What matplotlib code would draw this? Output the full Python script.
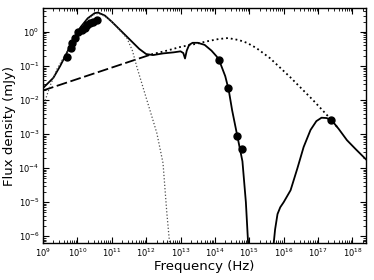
import numpy as np
import matplotlib
matplotlib.use("Agg")
import matplotlib.pyplot as plt
from matplotlib.ticker import LogLocator, NullFormatter

# total model, radio to IR part (log10 nu, log10 F)
total_lo_lognu = [9.0, 9.3, 9.5, 9.7, 9.9, 10.1, 10.3, 10.5, 10.6, 10.8, 11.0, 11.3,
                  11.6, 11.8, 12.0, 12.2, 12.5, 12.8, 13.0, 13.08, 13.13, 13.18, 13.25,
                  13.35, 13.5, 13.7, 13.9, 14.05, 14.13, 14.3, 14.4, 14.5, 14.66, 14.8,
                  14.9, 14.97]
total_lo_logf = [-1.65, -1.35, -1.0, -0.6, -0.2, 0.15, 0.4, 0.55, 0.57, 0.48, 0.3, 0.0,
                 -0.3, -0.5, -0.65, -0.68, -0.63, -0.6, -0.57, -0.62, -0.78, -0.55, -0.38,
                 -0.32, -0.32, -0.38, -0.55, -0.72, -0.85, -1.3, -1.7, -2.3, -3.1, -3.8,
                 -5.0, -6.3]

# total model, UV to X-ray part
total_hi_lognu = [15.7, 15.75, 15.82, 15.9, 16.0, 16.2, 16.4, 16.58, 16.78, 16.95, 17.1,
                  17.25, 17.4, 17.6, 17.84, 18.1, 18.45]
total_hi_logf = [-6.3, -5.8, -5.35, -5.15, -5.0, -4.65, -4.0, -3.38, -2.88, -2.62, -2.52,
                 -2.53, -2.6, -2.85, -3.18, -3.45, -3.8]

# synchrotron power law (dashed) and its curved continuation (dotted)
sync_lognu = [9.0, 12.15]
sync_logf = [-1.72, -0.66]
sync_hi_lognu = [12.15, 12.6, 13.0, 13.4, 13.8, 14.1, 14.38, 14.7, 14.93, 15.2, 15.6,
                 16.18, 16.85, 17.34, 17.6]
sync_hi_logf = [-0.66, -0.55, -0.44, -0.36, -0.27, -0.21, -0.18, -0.24, -0.32, -0.47,
                -0.77, -1.32, -2.0, -2.53, -2.85]

# cold component (thin dotted)
cold_lognu = [9.0, 9.2, 9.4, 9.64, 9.9, 10.1, 10.3, 10.5, 10.6, 10.8, 11.0, 11.2, 11.44,
              11.6, 11.73, 11.9, 12.02, 12.2, 12.31, 12.49, 12.6, 12.69]
cold_logf = [-2.2, -1.6, -1.1, -0.68, -0.25, 0.1, 0.37, 0.52, 0.54, 0.46, 0.3, 0.08, -0.18,
             -0.55, -1.03, -1.6, -2.0, -2.6, -2.97, -3.85, -5.3, -6.3]

# observed points
obs_lognu = [9.70, 9.81, 9.84, 9.93, 10.01, 10.13, 10.22, 10.28, 10.37, 10.45, 10.57,
             14.12, 14.38, 14.64, 14.78, 17.37]
obs_logf = [-0.74, -0.47, -0.32, -0.18, 0.0, 0.06, 0.12, 0.21, 0.26, 0.29, 0.35,
            -0.82, -1.65, -3.06, -3.44, -2.59]


def p(a):
    return 10.0 ** np.asarray(a)


fig = plt.figure(figsize=(3.74, 2.8), dpi=100)
ax = fig.add_axes([0.115, 0.132, 0.864, 0.839])

ax.plot(p(total_lo_lognu), p(total_lo_logf), "k-", lw=1.3)
ax.plot(p(total_hi_lognu), p(total_hi_logf), "k-", lw=1.3)
ax.plot(p(sync_lognu), p(sync_logf), "k--", lw=1.3, dashes=(6, 2))
ax.plot(p(sync_hi_lognu), p(sync_hi_logf), "k:", lw=1.3)
ax.plot(p(cold_lognu), p(cold_logf), color="0.3", ls=":", lw=0.9)
ax.plot(p(obs_lognu), p(obs_logf), "ko", ms=5, mec="k")

ax.set_xscale("log")
ax.set_yscale("log")
ax.set_xlim(1e9, 2.5e18)
ax.set_ylim(6.3e-7, 5.0)

ax.xaxis.set_major_locator(LogLocator(base=10, numticks=20))
ax.yaxis.set_major_locator(LogLocator(base=10, numticks=20))
ax.xaxis.set_minor_locator(LogLocator(base=10, subs=np.arange(2, 10), numticks=200))
ax.yaxis.set_minor_locator(LogLocator(base=10, subs=np.arange(2, 10), numticks=200))
ax.xaxis.set_minor_formatter(NullFormatter())
ax.yaxis.set_minor_formatter(NullFormatter())

ax.tick_params(which="both", direction="in", top=True, right=True, labelsize=6)
ax.tick_params(which="major", length=4, width=0.8, pad=2.5)
ax.tick_params(which="minor", length=2, width=0.6)
for s in ax.spines.values():
    s.set_linewidth(1.0)

ax.set_xlabel("Frequency (Hz)", fontsize=9.5, labelpad=0.5)
ax.set_ylabel("Flux density (mJy)", fontsize=9.5, labelpad=1.5)

fig.savefig("out.png", dpi=100, facecolor="white")
